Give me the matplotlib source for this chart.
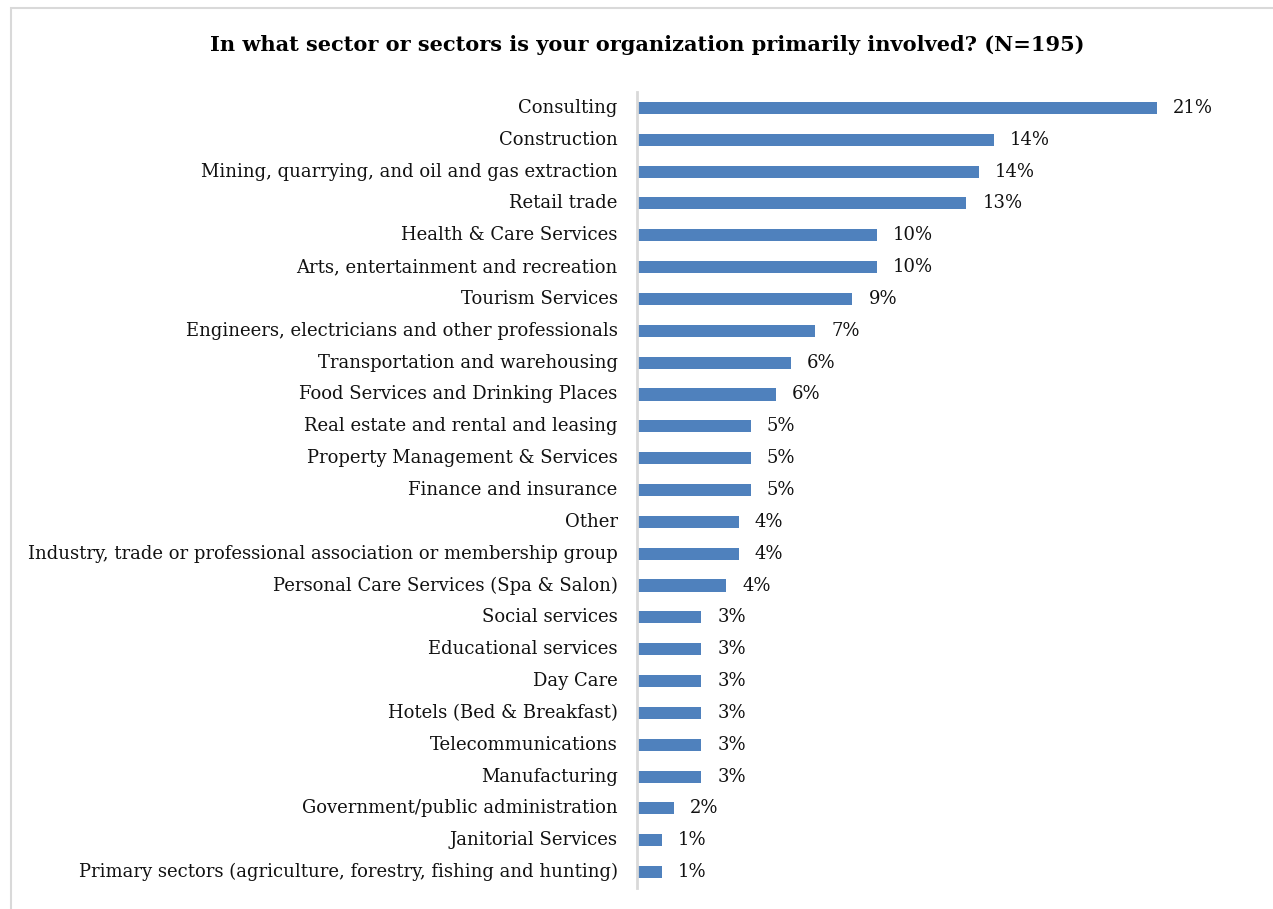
import matplotlib.pyplot as plt
from matplotlib.patches import Rectangle

sectors = [
    "Consulting",
    "Construction",
    "Mining, quarrying, and oil and gas extraction",
    "Retail trade",
    "Health & Care Services",
    "Arts, entertainment and recreation",
    "Tourism Services",
    "Engineers, electricians and other professionals",
    "Transportation and warehousing",
    "Food Services and Drinking Places",
    "Real estate and rental and leasing",
    "Property Management & Services",
    "Finance and insurance",
    "Other",
    "Industry, trade or professional association or membership group",
    "Personal Care Services (Spa & Salon)",
    "Social services",
    "Educational services",
    "Day Care",
    "Hotels (Bed & Breakfast)",
    "Telecommunications",
    "Manufacturing",
    "Government/public administration",
    "Janitorial Services",
    "Primary sectors (agriculture, forestry, fishing and hunting)",
]
# share of respondents, percent (N=195)
share = [21.0, 14.4, 13.8, 13.3, 9.7, 9.7, 8.7, 7.2, 6.2, 5.6, 4.6, 4.6, 4.6,
         4.1, 4.1, 3.6, 2.6, 2.6, 2.6, 2.6, 2.6, 2.6, 1.5, 1.0, 1.0]

W, H = 1273, 909
plt.rcParams['font.family'] = ['DejaVu Serif']

fig = plt.figure(figsize=(W / 100, H / 100), dpi=100)
fig.patches.append(Rectangle((11 / W, -0.01), 1.0, 1 - 8 / H + 0.01,
                             transform=fig.transFigure, fill=False,
                             edgecolor='#d9d9d9', linewidth=1.5))

ax = fig.add_axes([637 / W, 1 - 888 / H, (1230 - 637) / W, (888 - 92) / H])
y = list(range(len(sectors)))
ax.barh(y, share, height=0.38, color='#4f81bd')
ax.set_xlim(0, (1230 - 637) / 24.76)
ax.set_ylim(len(sectors) - 0.5, -0.5)
ax.set_yticks(y)
ax.set_yticklabels(sectors, fontsize=13, color='#111111')
ax.tick_params(axis='y', length=0, pad=14)
for lbl in ax.get_yticklabels():
    lbl.set_verticalalignment('center')
ax.set_xticks([])
for s in ['top', 'right', 'bottom']:
    ax.spines[s].set_visible(False)
ax.spines['left'].set_color('#d9d9d9')
ax.spines['left'].set_linewidth(2)

for yi, v in zip(y, share):
    ax.annotate(f"{v:.0f}%", (v, yi), xytext=(16, 0), textcoords='offset pixels',
                va='center', ha='left', fontsize=13, color='#111111')

fig.text(647 / W, 1 - 45 / H,
         "In what sector or sectors is your organization primarily involved? (N=195)",
         ha='center', va='center', fontsize=15, fontweight='bold')

fig.savefig("out.png", dpi=100)
